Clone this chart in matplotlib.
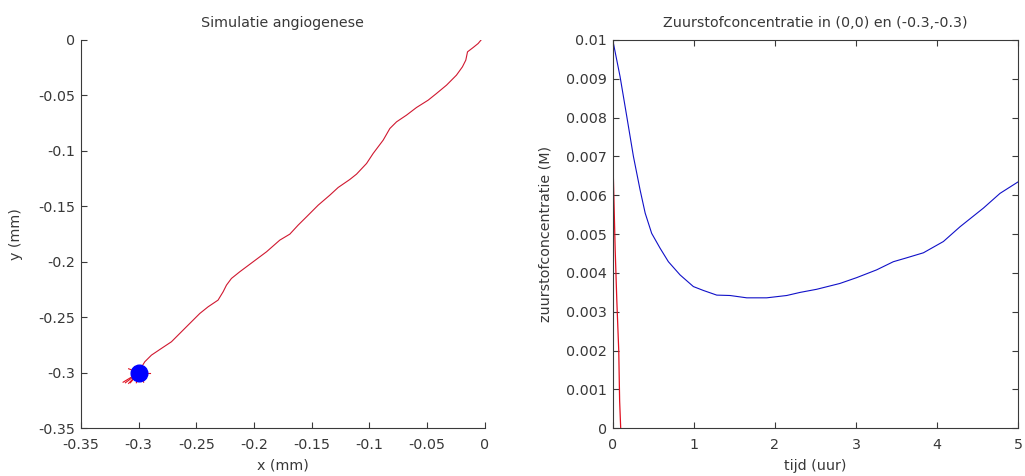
import numpy as np
import matplotlib.pyplot as plt

plt.rcParams['font.family'] = ['DejaVu Sans']

# ---------------- data ----------------
# vessel path (mm), from tip near origin down to the cell at (-0.3,-0.3)
path_x = [-0.0029, -0.0058, -0.0101, -0.0150, -0.0165, -0.0194, -0.0246, -0.0332,
          -0.0419, -0.0491, -0.0592, -0.0679, -0.0765, -0.0823, -0.0881, -0.0968,
          -0.1025, -0.1112, -0.1170, -0.1271, -0.1343, -0.1444, -0.1545, -0.1618,
          -0.1690, -0.1777, -0.1892, -0.2008, -0.2124, -0.2196, -0.2239, -0.2268,
          -0.2312, -0.2398, -0.2470, -0.2586, -0.2716, -0.2803, -0.2889, -0.2947,
          -0.2991]
path_y = [0.0, -0.0036, -0.0072, -0.0111, -0.0186, -0.0246, -0.0321, -0.0411,
          -0.0486, -0.0546, -0.0612, -0.0681, -0.0741, -0.0801, -0.0906, -0.1026,
          -0.1116, -0.1212, -0.1260, -0.1332, -0.1401, -0.1491, -0.1596, -0.1671,
          -0.1752, -0.1806, -0.1911, -0.2001, -0.2091, -0.2151, -0.2211, -0.2271,
          -0.2346, -0.2406, -0.2466, -0.2586, -0.2721, -0.2781, -0.2841, -0.2901,
          -0.2976]
cell_x, cell_y = -0.3, -0.3
# short sprouts around the cell (offsets, mm)
sprout_dx = [0.0101, -0.0087, -0.0135, -0.0115, -0.0087, -0.0072, -0.0020, 0.0043]
sprout_dy = [0.0, 0.0036, -0.0085, -0.0090, -0.0096, -0.0090, -0.0090, -0.0085]

# oxygen concentration at (0,0) (blue) and (-0.3,-0.3) (red)
t_blue = [0.0, 0.09, 0.173, 0.255, 0.337, 0.40, 0.48, 0.583, 0.686, 0.83, 0.994,
          1.117, 1.282, 1.446, 1.652, 1.898, 2.145, 2.31, 2.514, 2.80, 3.007,
          3.253, 3.459, 3.623, 3.83, 4.076, 4.281, 4.569, 4.774, 5.0]
c_blue = [0.0100, 0.00906, 0.00803, 0.00700, 0.00614, 0.00554, 0.00502, 0.00464,
          0.00429, 0.00395, 0.00365, 0.00355, 0.00343, 0.00342, 0.00336, 0.00336,
          0.00342, 0.00350, 0.00358, 0.00373, 0.00388, 0.00408, 0.00429, 0.00439,
          0.00452, 0.00481, 0.00519, 0.00567, 0.00605, 0.00635]
t_red = [0.0, 0.0, 0.006, 0.03, 0.05, 0.074, 0.085, 0.098]
c_red = [0.0087, 0.0073, 0.0066, 0.0046, 0.0033, 0.0020, 0.0007, 0.0]

xticks_l = [-0.35, -0.3, -0.25, -0.2, -0.15, -0.1, -0.05, 0]
xlabels_l = ['-0.35', '-0.3', '-0.25', '-0.2', '-0.15', '-0.1', '-0.05', '0']
yticks_l = [0, -0.05, -0.1, -0.15, -0.2, -0.25, -0.3, -0.35]
ylabels_l = ['0', '-0.05', '-0.1', '-0.15', '-0.2', '-0.25', '-0.3', '-0.35']
xticks_r = [0, 1, 2, 3, 4, 5]
yticks_r = [0, 0.001, 0.002, 0.003, 0.004, 0.005, 0.006, 0.007, 0.008, 0.009, 0.01]
ylabels_r = ['0', '0.001', '0.002', '0.003', '0.004', '0.005', '0.006', '0.007',
             '0.008', '0.009', '0.01']

txt = '#383838'
spine_c = '#3a3a3a'
fs = 10.3

fig = plt.figure(figsize=(10.25, 4.76), dpi=100)
fig.patch.set_facecolor('white')


def style(ax, box):
    for s in ax.spines.values():
        s.set_color(spine_c)
        s.set_linewidth(0.8)
    if not box:
        ax.spines['top'].set_visible(False)
        ax.spines['right'].set_visible(False)
    ax.tick_params(direction='in', length=4, width=0.8, color=spine_c,
                   labelsize=fs, labelcolor=txt,
                   top=box, right=box, pad=4)
    ax.tick_params(axis='x', pad=7)


# ---------------- left: angiogenesis ----------------
ax1 = fig.add_axes([0.079, 0.1002, 0.394, 0.8168])
ax1.plot(path_x, path_y, color='#d01830', linewidth=0.8)
for dx, dy in zip(sprout_dx, sprout_dy):
    ax1.plot([cell_x, cell_x + dx], [cell_y, cell_y + dy],
             color='#e01020', linewidth=0.8)
ax1.plot([cell_x], [cell_y], 'o', color='#0000ff', markersize=12,
         markeredgecolor='#0000ff')
ax1.set_xlim(-0.35, 0)
ax1.set_ylim(-0.35, 0)
ax1.set_xticks(xticks_l)
ax1.set_xticklabels(xlabels_l)
ax1.set_yticks(yticks_l)
ax1.set_yticklabels(ylabels_l)
style(ax1, box=False)
ax1.set_xlabel('x (mm)', fontsize=fs, color=txt, labelpad=5)
ax1.set_ylabel('y (mm)', fontsize=fs, color=txt, labelpad=11)
ax1.set_title('Simulatie angiogenese', fontsize=fs, color=txt, pad=9)

# ---------------- right: oxygen concentration ----------------
ax2 = fig.add_axes([0.5978, 0.1002, 0.3957, 0.8158])
ax2.plot(t_blue, c_blue, color='#1010c8', linewidth=0.8)
ax2.plot(t_red, c_red, color='#e01020', linewidth=0.9)
ax2.set_xlim(0, 5)
ax2.set_ylim(0, 0.01)
ax2.set_xticks(xticks_r)
ax2.set_yticks(yticks_r)
ax2.set_yticklabels(ylabels_r)
style(ax2, box=True)
ax2.set_xlabel('tijd (uur)', fontsize=fs, color=txt, labelpad=5)
ax2.set_ylabel('zuurstofconcentratie (M)', fontsize=fs, color=txt, labelpad=10)
ax2.set_title('Zuurstofconcentratie in (0,0) en (-0.3,-0.3)', fontsize=fs,
              color=txt, pad=9)

plt.savefig('out.png', dpi=100)
